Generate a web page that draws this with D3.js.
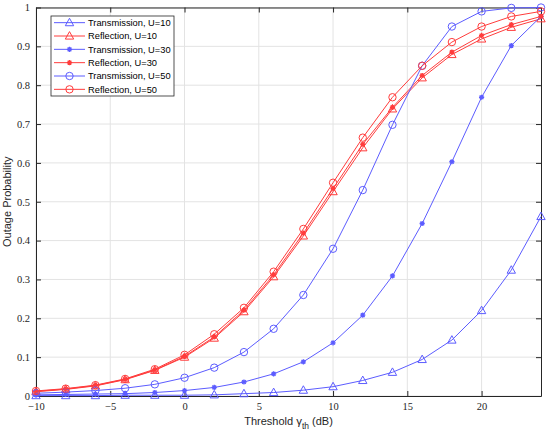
<!DOCTYPE html>
<html><head><meta charset="utf-8">
<script src="https://cdn.jsdelivr.net/npm/d3@7/dist/d3.min.js"></script>
<style>body{margin:0;background:#fff;} svg{display:block;}</style>
</head><body>
<svg id="chart" width="550" height="435"></svg>
<script>
const thresholds = [-10,-8,-6,-4,-2,0,2,4,6,8,10,12,14,16,18,20,22,24];
const transU10 = [0.001,0.001,0.001,0.002,0.002,0.002,0.003,0.006,0.009,0.015,0.024,0.040,0.061,0.094,0.144,0.220,0.324,0.462];
const reflU10  = [0.011,0.017,0.026,0.042,0.066,0.100,0.149,0.217,0.307,0.412,0.526,0.639,0.739,0.819,0.879,0.919,0.949,0.971];
const transU30 = [0.003,0.004,0.005,0.006,0.009,0.014,0.022,0.036,0.057,0.088,0.137,0.208,0.309,0.444,0.603,0.769,0.902,0.977];
const reflU30  = [0.012,0.018,0.027,0.043,0.067,0.102,0.152,0.221,0.312,0.419,0.534,0.648,0.743,0.825,0.885,0.928,0.956,0.977];
const transU50 = [0.007,0.010,0.014,0.020,0.030,0.047,0.073,0.113,0.173,0.260,0.379,0.530,0.698,0.850,0.951,0.990,0.999,1.000];
const reflU50  = [0.013,0.019,0.028,0.044,0.069,0.106,0.159,0.227,0.320,0.430,0.549,0.665,0.769,0.850,0.911,0.951,0.977,0.990];
const seriesNames = ["Transmission, U=10","Reflection, U=10","Transmission, U=30","Reflection, U=30","Transmission, U=50","Reflection, U=50"];
const xTicks = [-10,-5,0,5,10,15,20];
const yTicks = [0,0.1,0.2,0.3,0.4,0.5,0.6,0.7,0.8,0.9,1];

const BLUE = "#5c5cff", RED = "#ff3c3c";
const series = [
  {name:seriesNames[0], vals:transU10, color:BLUE, marker:"tri"},
  {name:seriesNames[1], vals:reflU10,  color:RED,  marker:"tri"},
  {name:seriesNames[2], vals:transU30, color:BLUE, marker:"star"},
  {name:seriesNames[3], vals:reflU30,  color:RED,  marker:"star"},
  {name:seriesNames[4], vals:transU50, color:BLUE, marker:"circ"},
  {name:seriesNames[5], vals:reflU50,  color:RED,  marker:"circ"}
];

const L=36, R=541, T=7.5, B=396;
const svg = d3.select("#chart");
const x = d3.scaleLinear().domain([-10,24]).range([L,R]);
const y = d3.scaleLinear().domain([0,1]).range([B,T]);

// grid
const g = svg.append("g");
g.selectAll(".gx").data(xTicks).enter().append("line")
  .attr("x1",d=>x(d)).attr("x2",d=>x(d)).attr("y1",T).attr("y2",B)
  .attr("stroke","#e3e3e3").attr("stroke-width",1);
g.selectAll(".gy").data(yTicks).enter().append("line")
  .attr("y1",d=>y(d)).attr("y2",d=>y(d)).attr("x1",L).attr("x2",R)
  .attr("stroke","#e3e3e3").attr("stroke-width",1);

// axes
const axisColor = "#262626";
const tickFont = "Liberation Serif";
const xb = svg.append("g").attr("transform",`translate(0,${B})`)
  .call(d3.axisBottom(x).tickValues(xTicks).tickSizeInner(-5).tickSizeOuter(0).tickPadding(7).tickFormat(d3.format("d")));
const xt = svg.append("g").attr("transform",`translate(0,${T})`)
  .call(d3.axisTop(x).tickValues(xTicks).tickSizeInner(-5).tickSizeOuter(0).tickFormat(""));
const yl = svg.append("g").attr("transform",`translate(${L},0)`)
  .call(d3.axisLeft(y).tickValues(yTicks).tickSizeInner(-5).tickSizeOuter(0).tickPadding(6).tickFormat(d=>d===0?"0":d===1?"1":d3.format(".1f")(d)));
const yr = svg.append("g").attr("transform",`translate(${R},0)`)
  .call(d3.axisRight(y).tickValues(yTicks).tickSizeInner(-5).tickSizeOuter(0).tickFormat(""));
[xb,xt,yl,yr].forEach(a=>{
  a.attr("font-family",tickFont).attr("font-size",10.5);
  a.select(".domain").attr("stroke",axisColor);
  a.selectAll(".tick line").attr("stroke",axisColor);
  a.selectAll("text").attr("fill","#262626").style("font-family",tickFont).style("font-size","10.5px");
});

// lines + markers
const line = d3.line().x((d,i)=>x(thresholds[i])).y(d=>y(d));
svg.append("clipPath").attr("id","clip").append("rect")
  .attr("x",L-8).attr("y",T-8).attr("width",R-L+16).attr("height",B-T+16);

function drawMarker(sel, type, color, cx, cy){
  if(type==="tri"){
    const s=4.4;
    sel.append("path").attr("d",`M${cx},${cy-s}L${cx+s*0.95},${cy+s*0.7}L${cx-s*0.95},${cy+s*0.7}Z`)
      .attr("fill","none").attr("stroke",color).attr("stroke-width",1);
  } else if(type==="circ"){
    sel.append("circle").attr("cx",cx).attr("cy",cy).attr("r",3.7)
      .attr("fill","none").attr("stroke",color).attr("stroke-width",1);
  } else {
    const s=2.6, d=s*0.72;
    sel.append("path").attr("d",`M${cx-s},${cy}L${cx+s},${cy}M${cx},${cy-s}L${cx},${cy+s}M${cx-d},${cy-d}L${cx+d},${cy+d}M${cx-d},${cy+d}L${cx+d},${cy-d}`)
      .attr("stroke",color).attr("stroke-width",1.3).attr("fill","none");
  }
}

series.forEach(s=>{
  const sg = svg.append("g").attr("clip-path","url(#clip)");
  sg.append("path").datum(s.vals).attr("d",line).attr("fill","none")
    .attr("stroke",s.color).attr("stroke-width",1);
  s.vals.forEach((v,i)=>drawMarker(sg, s.marker, s.color, x(thresholds[i]), y(v)));
});

// legend
const lgX=51, lgY=16, lgW=123, lgH=80, rowH=lgH/6;
const lg = svg.append("g");
lg.append("rect").attr("x",lgX).attr("y",lgY).attr("width",lgW).attr("height",lgH)
  .attr("fill","#fff").attr("stroke",axisColor).attr("stroke-width",0.8);
series.forEach((s,k)=>{
  const cy = lgY + rowH*(k+0.5);
  lg.append("line").attr("x1",54).attr("x2",85).attr("y1",cy).attr("y2",cy)
    .attr("stroke",s.color).attr("stroke-width",1);
  drawMarker(lg, s.marker, s.color, 69.5, cy);
  lg.append("text").attr("x",88).attr("y",cy).attr("dy","0.35em")
    .style("font-family","Liberation Sans").style("font-size","9.3px")
    .attr("fill","#000").text(s.name);
});

// axis labels
const labFont = "Liberation Sans";
const xl = svg.append("text").attr("x",(L+R)/2).attr("y",424.5).attr("text-anchor","middle")
  .style("font-family",labFont).style("font-size","11px").attr("fill","#262626");
xl.append("tspan").text("Threshold ");
xl.append("tspan").text("γ").style("font-size","11.5px");
xl.append("tspan").text("th").attr("dy","4").style("font-size","8.5px");
xl.append("tspan").text(" (dB)").attr("dy","-4");

svg.append("text").attr("transform",`translate(11,${(T+B)/2}) rotate(-90)`)
  .attr("text-anchor","middle").style("font-family",labFont).style("font-size","11px")
  .attr("fill","#262626").text("Outage Probability");
</script>
</body></html>
